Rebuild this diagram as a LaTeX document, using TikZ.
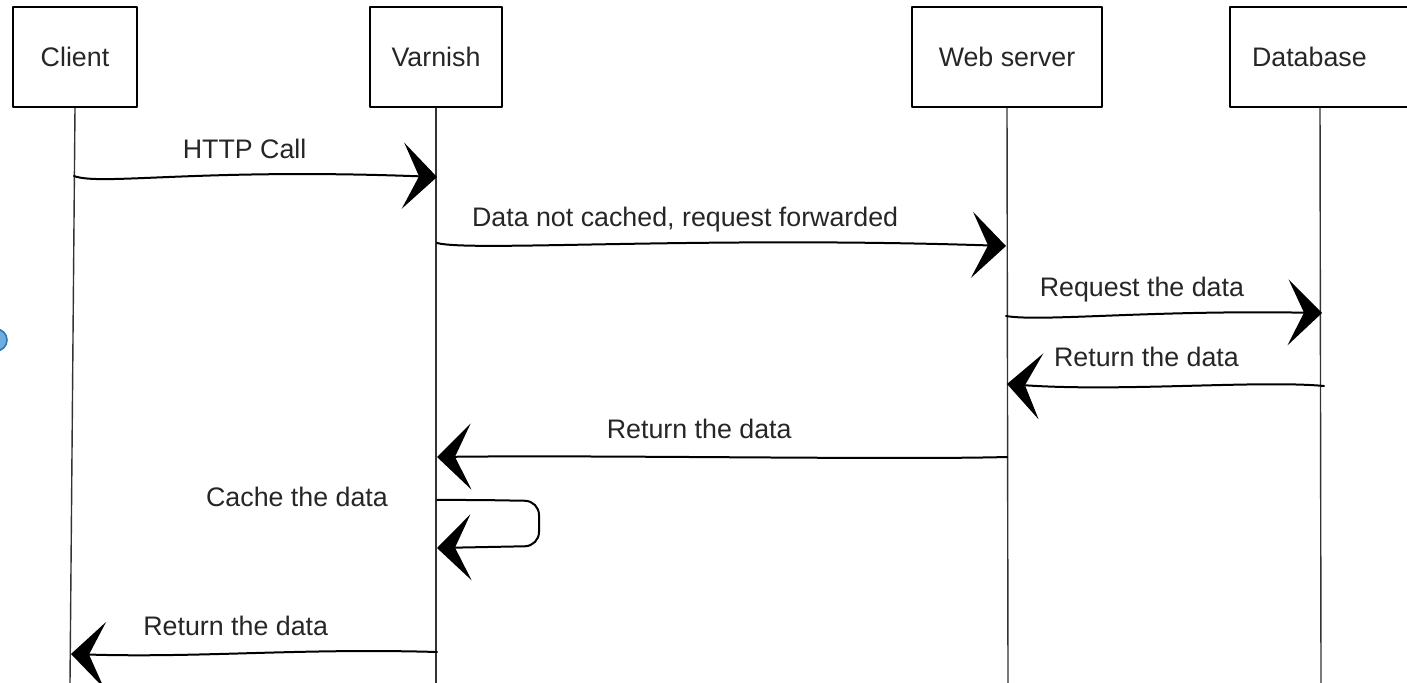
\documentclass[tikz,border=0pt]{standalone}
\usepackage{fontspec}
\setmainfont{Liberation Sans}
\usetikzlibrary{arrows.meta,calc}
\definecolor{blobfill}{HTML}{6FAEDD}
\definecolor{blobedge}{HTML}{2E79B0}

\begin{document}
\begin{tikzpicture}[line cap=round,line join=round,x=.5pt,y=-.5pt,
	head/.style={draw,line width=1pt,minimum height=50pt,inner sep=0pt,text=black!85,font=\fontsize{13.4}{16}\selectfont},
	life/.style={line width=.7pt,color=black!80},
	msg/.style={line width=1pt,-{Stealth[length=17pt,width=33pt,inset=8pt]}},
	lbl/.style={anchor=base,yshift=9pt,text=black!85,font=\fontsize{13.4}{16}\selectfont}]
	\useasboundingbox (0,0) rectangle (1407,683);
	\clip (0,0) rectangle (1407,683);
	\draw[fill=blobfill,draw=blobedge,line width=.8pt] (-4,340) circle[radius=11];
	% participants
	\node[head,minimum width=62pt] (client) at (75,57) {Client};
	\node[head,minimum width=66pt] (varnish) at (436,57) {Varnish};
	\node[head,minimum width=95pt] (web) at (1007,57) {Web server};
	\node[head,text width=74pt,inner xsep=11pt,align=left] (db) at (1326,57) {Database};
	\coordinate (client-end) at (70,683);
	\coordinate (varnish-end) at (436,683);
	\coordinate (web-end) at (1008,683);
	\coordinate (db-end) at (1321,683);
	\foreach \n in {client,varnish,web}
		\draw[life] (\n.south) -- (\n-end);
	\draw[life] ($(db.south)+(-6,0)$) -- (db-end);
	% message ends on the lifelines
	\coordinate (c1) at (74,176);
	\coordinate (v1) at (437,177);
	\coordinate (v2) at (437,243);
	\coordinate (w2) at (1006,246);
	\coordinate (w3) at (1006,316);
	\coordinate (d3) at (1322,313);
	\coordinate (d4) at (1324,386);
	\coordinate (w4) at (1007,384);
	\coordinate (w5) at (1007,457);
	\coordinate (v5) at (437,457);
	\coordinate (v6) at (437,500);
	\coordinate (v7) at (437,548);
	\coordinate (v8) at (437,652);
	\coordinate (c8) at (71,654);
	% messages
	\draw[msg] (c1) .. controls (100,186) and (200,168) .. (v1);
	\draw[msg] (v2) .. controls (470,252) and (700,236) .. (w2);
	\draw[msg] (w3) .. controls (1040,322) and (1150,310) .. (d3);
	\draw[msg] (d4) .. controls (1260,380) and (1120,392) .. (w4);
	\draw[msg] (w5) .. controls (900,460) and (600,455) .. (v5);
	\draw[msg,rounded corners=7pt] (v6) -- (480,500) -- (539,501) -- (539,546) -- (v7);
	\draw[msg] (v8) .. controls (300,648) and (200,658) .. (c8);
	% labels
	\node[lbl] (http) at ($(c1)!.47!(v1)$) {HTTP Call};
	\node[lbl] (fwd) at ($(v2)!.436!(w2)$) {Data not cached, request forwarded};
	\node[lbl] (req) at ($(w3)!.43!(d3)$) {Request the data};
	\node[lbl] (ret1) at ($(d4)!.56!(w4)$) {Return the data};
	\node[lbl] (ret2) at ($(w5)!.54!(v5)$) {Return the data};
	\node[anchor=base,text=black!85,font=\fontsize{13.4}{16}\selectfont] (cache) at (297,507) {Cache the data};
	\node[lbl] (ret3) at ($(v8)!.55!(c8)$) {Return the data};
\end{tikzpicture}
\end{document}
